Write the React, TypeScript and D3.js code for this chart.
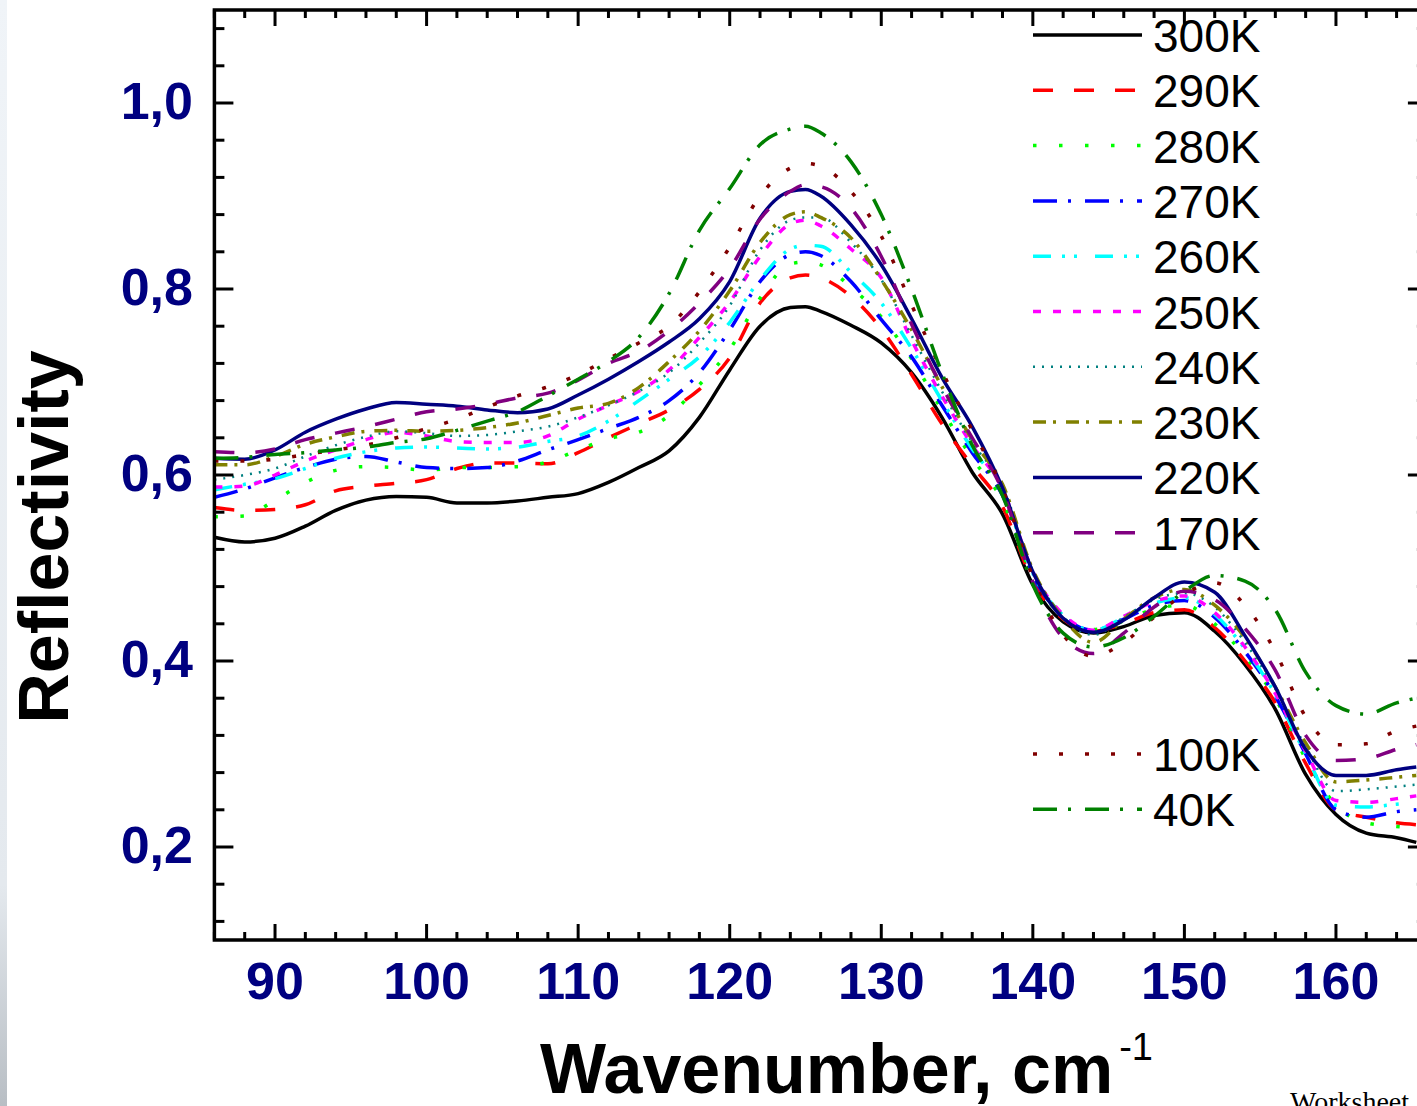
import React from 'react';
import * as d3 from 'd3';

// wavenumber grid (cm-1) shared by all curves
const WAVENUMBER = [86, 88, 90, 92, 94, 96, 98, 100, 102, 104, 106, 108, 110, 112, 114, 116, 118, 120, 122, 124, 125, 126, 128, 130, 132, 134, 136, 138, 140, 142, 144, 146, 148, 150, 152, 154, 156, 158, 160, 162, 164, 165.3];

const R300 = [.533, .528, .532, .545, .562, .573, .577, .576, .570, .570, .572, .576, .580, .592, .608, .626, .662, .713, .760, .780, .781, .776, .761, .742, .710, .662, .603, .558, .482, .442, .430, .437, .449, .452, .432, .396, .348, .278, .235, .215, .210, .205];
const R290 = [.565, .562, .563, .568, .583, .588, .591, .595, .607, .613, .613, .612, .624, .640, .655, .670, .692, .726, .785, .812, .815, .812, .792, .757, .708, .655, .610, .566, .486, .445, .432, .440, .452, .455, .436, .400, .355, .290, .240, .232, .226, .224];
const R280 = [.555, .556, .573, .592, .605, .609, .608, .605, .608, .608, .609, .614, .627, .639, .646, .664, .697, .735, .790, .827, .829, .826, .802, .770, .725, .670, .618, .572, .490, .448, .434, .443, .456, .460, .440, .405, .360, .295, .245, .226, .222, .220];
const R270 = [.576, .585, .597, .608, .617, .620, .614, .608, .607, .608, .615, .627, .638, .650, .662, .680, .710, .756, .808, .837, .840, .836, .808, .767, .727, .675, .624, .578, .492, .448, .433, .445, .460, .465, .447, .410, .362, .300, .240, .232, .238, .240];
const R260 = [.584, .590, .596, .607, .618, .625, .629, .630, .629, .628, .630, .636, .642, .658, .680, .703, .727, .764, .810, .843, .847, .846, .818, .785, .736, .680, .628, .582, .494, .449, .433, .447, .462, .468, .450, .413, .364, .300, .245, .243, .246, .248];
const R250 = [.587, .588, .600, .615, .627, .638, .646, .642, .636, .635, .635, .642, .660, .675, .690, .713, .748, .786, .835, .870, .874, .868, .843, .812, .745, .685, .632, .585, .496, .450, .433, .448, .464, .470, .452, .415, .365, .303, .250, .248, .252, .255];
const R240 = [.595, .600, .607, .620, .632, .641, .647, .645, .642, .643, .647, .652, .662, .675, .690, .710, .742, .782, .842, .874, .877, .877, .850, .810, .750, .690, .635, .588, .497, .448, .428, .447, .466, .473, .458, .420, .370, .308, .260, .262, .265, .267];
const R230 = [.611, .611, .620, .633, .641, .647, .648, .647, .648, .651, .656, .664, .672, .677, .694, .722, .755, .798, .850, .880, .883, .877, .855, .810, .756, .695, .638, .590, .498, .446, .420, .445, .468, .477, .460, .425, .372, .312, .270, .272, .275, .277];
const R220 = [.618, .617, .627, .646, .660, .671, .678, .676, .674, .670, .667, .671, .686, .703, .722, .743, .768, .808, .876, .905, .907, .900, .869, .826, .768, .705, .652, .586, .496, .446, .431, .444, .468, .485, .474, .427, .372, .305, .277, .277, .283, .286];
const R170 = [.625, .624, .628, .638, .645, .652, .660, .668, .671, .676, .683, .688, .702, .720, .733, .755, .785, .822, .875, .905, .912, .910, .887, .835, .762, .695, .640, .583, .485, .425, .408, .430, .458, .475, .466, .435, .390, .320, .293, .295, .305, .310];
const R100 = [.615, .615, .617, .622, .627, .632, .640, .650, .660, .673, .685, .695, .708, .725, .742, .760, .797, .845, .900, .930, .935, .932, .905, .857, .783, .712, .648, .585, .490, .428, .405, .420, .447, .472, .484, .460, .410, .340, .310, .311, .325, .330];
const R40 = [.618, .619, .622, .624, .627, .630, .635, .639, .648, .658, .668, .685, .703, .722, .748, .795, .863, .908, .955, .972, .975, .968, .937, .880, .800, .710, .632, .578, .482, .430, .415, .425, .448, .475, .492, .486, .455, .388, .352, .343, .355, .360];

const LABELS = ['300K', '290K', '280K', '270K', '260K', '250K', '240K', '230K', '220K', '170K', '100K', '40K'];
const Y_TICKS = [0.2, 0.4, 0.6, 0.8, 1.0];
const X_TICKS = [90, 100, 110, 120, 130, 140, 150, 160];

const W = 1417;
const H = 1106;

const series = [
  { label: LABELS[0], values: R300, color: '#000000', dash: null, width: 3.5, row: 0 },
  { label: LABELS[1], values: R290, color: '#ff0000', dash: '20,21', width: 3.5, row: 1 },
  { label: LABELS[2], values: R280, color: '#00ff00', dash: '3.5,22.5', width: 3.5, row: 2 },
  { label: LABELS[3], values: R270, color: '#0000ff', dash: '24,11,3,14', width: 3.5, row: 3 },
  { label: LABELS[4], values: R260, color: '#00ffff', dash: '18,11,3,9,3,18', width: 3.5, row: 4 },
  { label: LABELS[5], values: R250, color: '#ff00ff', dash: '8,12', width: 3.5, row: 5 },
  { label: LABELS[6], values: R240, color: '#008080', dash: '2,7', width: 2.5, row: 6 },
  { label: LABELS[7], values: R230, color: '#808000', dash: '13,7,3,10', width: 3.5, row: 7 },
  { label: LABELS[8], values: R220, color: '#000080', dash: null, width: 3.5, row: 8 },
  { label: LABELS[9], values: R170, color: '#800080', dash: '20,21', width: 3.5, row: 9 },
  { label: LABELS[10], values: R100, color: '#800000', dash: '4,22', width: 3.5, row: 13 },
  { label: LABELS[11], values: R40, color: '#008000', dash: '24,11,3,14', width: 3.5, row: 14 },
];

const SANS = '"Liberation Sans", Arial, sans-serif';

export default function App() {
  const x = d3.scaleLinear().domain([86, 166]).range([214.4, 1426.9]);
  const y = d3.scaleLinear().domain([0.1, 1.1]).range([940, 10]);

  const line = d3.line<number>()
    .x((d, i) => x(WAVENUMBER[i]))
    .y(d => y(d))
    .curve(d3.curveMonotoneX);

  const [x0, x1] = x.range();
  const [y0, y1] = y.range();

  const yMinor = d3.range(0.12, 1.1, 0.04).filter(v => !Y_TICKS.some(t => Math.abs(t - v) < 1e-6));
  const xMinor = d3.range(86, 166.1, 2).filter(v => v % 10 !== 0);

  const legX0 = 1033, legX1 = 1142, legTop = 35, legStep = 55.3;

  return (
    <svg width={W} height={H} style={{ position: 'absolute', left: 0, top: 0, display: 'block', background: '#fff' }}>
      <defs>
        <linearGradient id="edge" x1="0" y1="0" x2="0" y2="1">
          <stop offset="0" stopColor="#f0f4f8" />
          <stop offset="0.8" stopColor="#e4e9ee" />
          <stop offset="1" stopColor="#b8bec4" />
        </linearGradient>
        <clipPath id="plot">
          <rect x={x0} y={y1} width={x1 - x0} height={y0 - y1} />
        </clipPath>
      </defs>
      <rect x={0} y={0} width={W} height={H} fill="#fff" />
      <rect x={0} y={0} width={7} height={H} fill="url(#edge)" />

      {/* curves */}
      <g clipPath="url(#plot)" fill="none">
        {series.map(s => (
          <path key={s.label} d={line(s.values) || ''} stroke={s.color} strokeWidth={s.width}
            strokeDasharray={s.dash || undefined} strokeLinejoin="round" />
        ))}
      </g>

      {/* frame and ticks */}
      <g stroke="#000" strokeWidth={3}>
        {Y_TICKS.map(v => (
          <g key={'yt' + v}>
            <line x1={x0} x2={x0 + 19} y1={y(v)} y2={y(v)} />
            <line x1={x1} x2={x1 - 19} y1={y(v)} y2={y(v)} />
          </g>
        ))}
        {yMinor.map(v => (
          <g key={'ym' + v}>
            <line x1={x0} x2={x0 + 10} y1={y(v)} y2={y(v)} />
            <line x1={x1} x2={x1 - 10} y1={y(v)} y2={y(v)} />
          </g>
        ))}
        {X_TICKS.map(v => (
          <g key={'xt' + v}>
            <line x1={x(v)} x2={x(v)} y1={y0} y2={y0 - 16} />
            <line x1={x(v)} x2={x(v)} y1={y1} y2={y1 + 16} />
          </g>
        ))}
        {xMinor.map(v => (
          <g key={'xm' + v}>
            <line x1={x(v)} x2={x(v)} y1={y0} y2={y0 - 8} />
            <line x1={x(v)} x2={x(v)} y1={y1} y2={y1 + 8} />
          </g>
        ))}
        <rect x={x0} y={y1} width={x1 - x0} height={y0 - y1} fill="none" strokeWidth={3.5} />
      </g>

      {/* tick labels */}
      <g fontFamily={SANS} fontWeight="bold" fontSize={52} fill="#000080">
        {Y_TICKS.map(v => (
          <text key={'yl' + v} x={193} y={y(v) + 16} textAnchor="end">{v.toFixed(1).replace('.', ',')}</text>
        ))}
        {X_TICKS.map(v => (
          <text key={'xl' + v} x={x(v)} y={999} textAnchor="middle">{v}</text>
        ))}
      </g>

      {/* axis titles */}
      <text transform="translate(68,537) rotate(-90)" textAnchor="middle" fontFamily={SANS}
        fontWeight="bold" fontSize={70} fill="#000">Reflectivity</text>
      <text x={540} y={1093} fontFamily={SANS} fontWeight="bold" fontSize={70} fill="#000">
        Wavenumber, cm
        <tspan dx={6} dy={-33} fontSize={38} fontWeight="normal">-1</tspan>
      </text>

      {/* legend */}
      <g fontFamily={SANS} fontSize={46} fill="#000">
        {series.map(s => {
          const ly = legTop + s.row * legStep;
          return (
            <g key={'lg' + s.label}>
              <line x1={legX0} x2={legX1} y1={ly} y2={ly} stroke={s.color} strokeWidth={s.width}
                strokeDasharray={s.dash || undefined} />
              <text x={1153} y={ly + 17}>{s.label}</text>
            </g>
          );
        })}
      </g>

      <text x={1290} y={1111} fontFamily='"Liberation Serif", "Times New Roman", serif' fontSize={28} fill="#000">Worksheet</text>
    </svg>
  );
}
